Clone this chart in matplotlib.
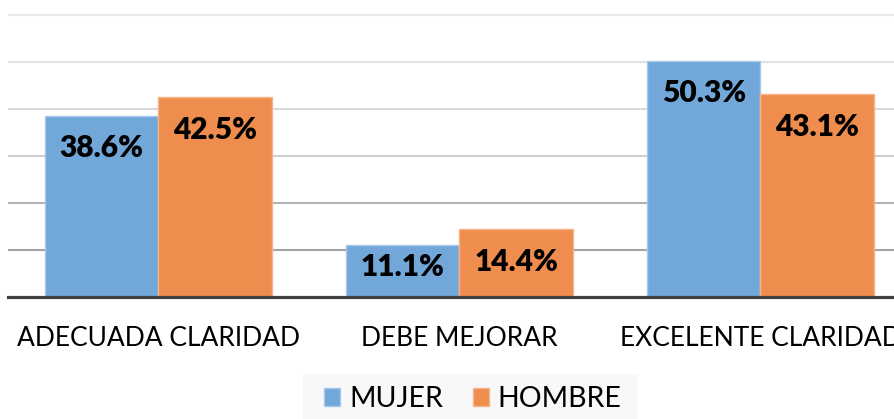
import numpy as np
import matplotlib
matplotlib.use("Agg")
import matplotlib.pyplot as plt
from matplotlib.patches import Patch, Rectangle

categorias = ["ADECUADA CLARIDAD", "DEBE MEJORAR", "EXCELENTE CLARIDAD"]
mujer = [38.6, 11.1, 50.3]
hombre = [42.5, 14.4, 43.1]
series = ["MUJER", "HOMBRE"]

AZUL = "#72a7d9"
NARANJA = "#ef8d4f"
plt.rcParams['font.family'] = ['Lato', 'DejaVu Sans']

W, H = 895, 419
fig = plt.figure(figsize=(W / 100, H / 100), dpi=100)
# axes run past the right edge, the reference is cropped there
ax = fig.add_axes([8 / W, (H - 297) / H, 903 / W, 297 / H])
ax.set_xlim(-0.5, 2.5)
ax.set_ylim(0, 297 / 4.7)

# gridlines get darker towards the baseline in the reference
grid_cols = ["#a3a3a3", "#b3b3b3", "#cfcfcf", "#d9d9d9", "#e2e2e2", "#e8e8e8"]
for k, c in enumerate(grid_cols):
    ax.axhline((k + 1) * 10, color=c, lw=1.5, zorder=0)

x = np.arange(len(categorias))
w = 0.377
b1 = ax.bar(x - w / 2, mujer, w, color=AZUL, edgecolor="#a8c8e9", lw=1.0, zorder=2)
b2 = ax.bar(x + w / 2, hombre, w, color=NARANJA, edgecolor="#f6b48a", lw=1.0, zorder=2)

for xs, vals in ((x - w / 2, mujer), (x + w / 2, hombre)):
    for xi, v in zip(xs, vals):
        ax.text(xi, max(v - 7.0, 6.3), f"{v:.1f}%", ha="center", va="center",
                fontsize=21.5, fontweight="heavy", color="black", zorder=3)

ax.axhline(0, color="#404040", lw=2.3, zorder=4, clip_on=False)

for s in ax.spines.values():
    s.set_visible(False)
ax.set_yticks([])
ax.set_xticks(x)
ax.set_xticklabels(categorias, fontsize=19)
ax.tick_params(axis="x", length=0, pad=21)

# legend background box (light grey, no border)
fig.patches.append(Rectangle((303 / W, 0), 335 / W, 45 / H, transform=fig.transFigure,
                             facecolor="#f8f8f8", edgecolor="none", zorder=0))
handles = [Patch(facecolor=AZUL, edgecolor="#a8c8e9"), Patch(facecolor=NARANJA, edgecolor="#f6b48a")]
leg = fig.legend(handles, series, loc="center", bbox_to_anchor=(473 / W, 1 - 399 / H),
                 ncol=2, fontsize=20.5, frameon=False, handlelength=0.55, handleheight=0.55,
                 handletextpad=0.32, columnspacing=1.05, borderpad=0, borderaxespad=0)

fig.savefig("out.png", dpi=100)
